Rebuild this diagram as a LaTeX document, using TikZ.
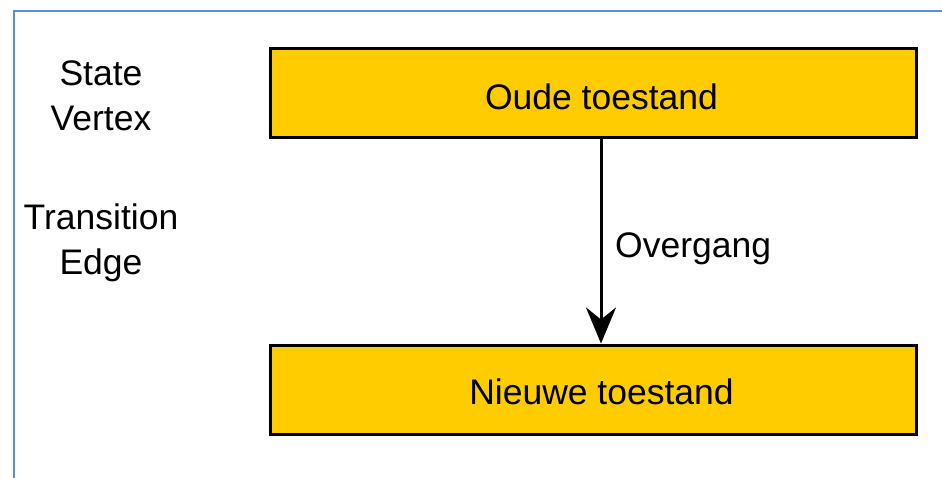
\documentclass[tikz,border=0pt]{standalone}
\usepackage{fontspec}
\setmainfont{Liberation Sans}
\usetikzlibrary{arrows.meta}
\definecolor{framebl}{RGB}{91,143,212}
\definecolor{stategold}{RGB}{255,204,0}
\begin{document}
\begin{tikzpicture}[x=1pt,y=-1pt,
  statebox/.style={draw=black,line width=3pt,fill=stategold,minimum width=646pt,minimum height=89pt,inner sep=0pt},
  boxtext/.style={inner sep=0pt,font=\fontsize{35.5}{40}\selectfont},
  sidelabel/.style={align=center,font=\fontsize{35.5}{45}\selectfont,inner sep=0pt},
  trans/.style={line width=3pt,-{Stealth[length=36pt,width=30pt,inset=12pt]}}]
\useasboundingbox (0,0) rectangle (942,478);
\fill[white] (0,0) rectangle (942,478);
\draw[framebl,line width=2pt] (14,478) -- (14,11) -- (942,11);
\node[statebox] (old) at (593,93.5) {};
\node[boxtext] (oldt) at (601.5,97) {Oude toestand};
\node[statebox] (new) at (593,389.5) {};
\node[boxtext] (newt) at (601.5,392) {Nieuwe toestand};
\draw[trans] (old.south -| 601,0) -- (new.north -| 601,0);
\node[anchor=west,boxtext] (lbl) at (615,249) {Overgang};
\node[sidelabel] (sv) at (101,96) {State\\Vertex};
\node[sidelabel] (te) at (101,243) {Transition\\Edge};
\end{tikzpicture}
\end{document}
